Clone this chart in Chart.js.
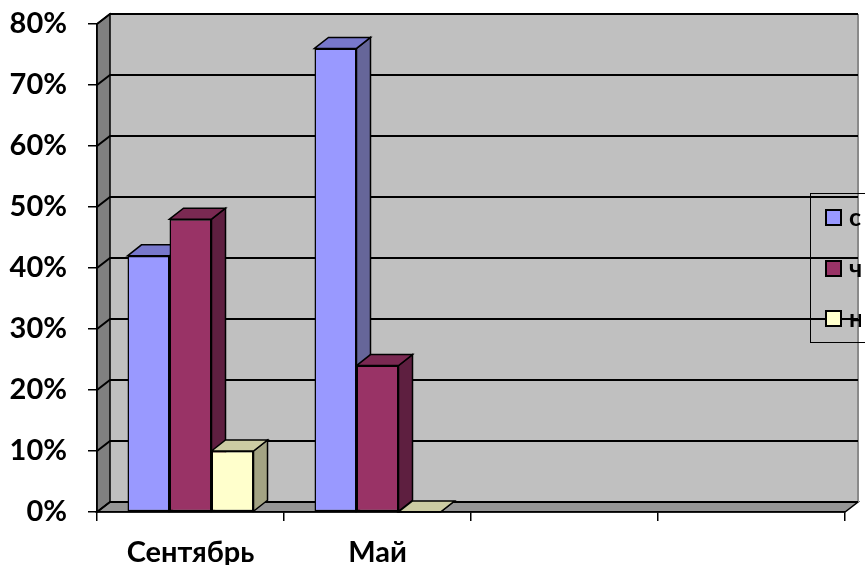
<!DOCTYPE html>
<html>
<head>
<meta charset="utf-8">
<script src="https://cdn.jsdelivr.net/npm/chart.js@4.4.1/dist/chart.umd.min.js"></script>
<style>
  html, body { margin: 0; padding: 0; background: #fff; overflow: hidden; }
  canvas { display: block; }
</style>
</head>
<body>
<canvas id="chart" width="865" height="565"></canvas>
<script>
// data (percent)
const categories = ['Сентябрь', 'Май', '', ''];
const seriesNames = ['сформирован', 'частично сформирован', 'не сформирован'];
const seriesS = [42, 76, null, null];
const seriesCh = [48, 24, null, null];
const seriesN = [10, 0, null, null];
const yTicks = [0, 10, 20, 30, 40, 50, 60, 70, 80];

// front / top / side colours per series
const faceColors = [
    ['#9999ff', '#7878cc', '#666699'],
    ['#993366', '#7a2952', '#5e1f40'],
    ['#ffffcc', '#cccca3', '#a3a383']
];

const FONT = 'Lato, "Noto Sans", sans-serif';
const WX = 13, WY = 10;   // wall depth
const BX = 14, BY = 11;   // bar depth

function poly(ctx, pts, fill, stroke, lw) {
    ctx.beginPath();
    ctx.moveTo(pts[0][0], pts[0][1]);
    for (let i = 1; i < pts.length; i++) ctx.lineTo(pts[i][0], pts[i][1]);
    ctx.closePath();
    if (fill) { ctx.fillStyle = fill; ctx.fill(); }
    if (stroke) { ctx.strokeStyle = stroke; ctx.lineWidth = lw || 1; ctx.stroke(); }
}

// walls, floor, gridlines and the depth faces of the bars
const room3d = {
    id: 'room3d',
    beforeDraw(chart) {
        const { ctx, chartArea: a } = chart;
        const y = chart.scales.y;
        ctx.save();
        // back wall
        poly(ctx, [[a.left + WX, a.top - WY], [a.right + WX, a.top - WY], [a.right + WX, a.bottom - WY], [a.left + WX, a.bottom - WY]], '#c0c0c0');
        // side wall
        poly(ctx, [[a.left, a.top], [a.left + WX, a.top - WY], [a.left + WX, a.bottom - WY], [a.left, a.bottom]], '#808080', '#000', 1.5);
        // floor
        poly(ctx, [[a.left, a.bottom], [a.left + WX, a.bottom - WY], [a.right + WX, a.bottom - WY], [a.right, a.bottom]], '#969696', '#000', 1.5);
        // right edge of back wall
        ctx.strokeStyle = '#8a8a8a';
        ctx.lineWidth = 2;
        ctx.beginPath();
        ctx.moveTo(a.right + WX, a.top - WY);
        ctx.lineTo(a.right + WX, a.bottom - WY);
        ctx.stroke();
        // gridlines
        ctx.strokeStyle = '#000';
        ctx.lineWidth = 2;
        yTicks.forEach(v => {
            const py = y.getPixelForValue(v);
            ctx.beginPath();
            ctx.moveTo(a.left, py);
            ctx.lineTo(a.left + WX, py - WY);
            ctx.lineTo(a.right + WX, py - WY);
            ctx.stroke();
        });
        // bar tops and sides
        chart.data.datasets.forEach((ds, di) => {
            const meta = chart.getDatasetMeta(di);
            meta.data.forEach((bar, i) => {
                if (ds.data[i] == null) return;
                const p = bar.getProps(['x', 'y', 'width', 'base'], true);
                const l = p.x - p.width / 2, r = p.x + p.width / 2;
                const t = p.y, b = p.base;
                poly(ctx, [[r, t], [r + BX, t - BY], [r + BX, b - BY], [r, b]], faceColors[di][2], '#000', 1.5);
                poly(ctx, [[l, t], [l + BX, t - BY], [r + BX, t - BY], [r, t]], faceColors[di][1], '#000', 1.5);
            });
        });
        ctx.restore();
    },
    afterDraw(chart) {
        // legend box, transparent, running off the right edge
        const ctx = chart.ctx;
        ctx.save();
        ctx.strokeStyle = '#000';
        ctx.lineWidth = 1;
        ctx.strokeRect(810.5, 193.5, 120, 149);
        ctx.beginPath();
        ctx.rect(0, 0, 861, chart.height);
        ctx.clip();
        const rowsY = [217, 268, 318];
        ctx.font = 'bold 25px ' + FONT;
        ctx.textBaseline = 'middle';
        seriesNames.forEach((name, i) => {
            ctx.fillStyle = faceColors[i][0];
            ctx.fillRect(826, rowsY[i] - 7, 15, 15);
            ctx.strokeStyle = '#000';
            ctx.lineWidth = 2;
            ctx.strokeRect(826, rowsY[i] - 7, 15, 15);
            ctx.fillStyle = '#000';
            ctx.fillText(name, 849, rowsY[i] + 1);
        });
        ctx.restore();
    }
};

const ctx = document.getElementById('chart').getContext('2d');
const barStyle = { borderColor: '#000', borderWidth: 1.5, borderSkipped: false };

new Chart(ctx, {
    type: 'bar',
    data: {
        labels: categories,
        datasets: [
            Object.assign({ label: seriesNames[0], data: seriesS, backgroundColor: faceColors[0][0] }, barStyle),
            Object.assign({ label: seriesNames[1], data: seriesCh, backgroundColor: faceColors[1][0] }, barStyle),
            Object.assign({ label: seriesNames[2], data: seriesN, backgroundColor: faceColors[2][0] }, barStyle)
        ]
    },
    options: {
        responsive: false,
        animation: false,
        categoryPercentage: 0.674,
        barPercentage: 1,
        layout: { padding: { top: 24, right: 20, left: 0, bottom: 0 } },
        plugins: {
            legend: { display: false },
            tooltip: { enabled: false }
        },
        scales: {
            x: {
                afterFit: s => { s.height = 53; },
                border: { display: true, color: '#000', width: 1.5 },
                grid: { offset: true, drawOnChartArea: false, tickLength: 9, color: '#000', lineWidth: 1.5 },
                ticks: { color: '#000', padding: 14, font: { family: FONT, size: 29, weight: 'bold' } }
            },
            y: {
                min: 0,
                max: 80,
                afterFit: s => { s.width = 97; s.paddingTop = 0; s.paddingBottom = 0; },
                border: { display: true, color: '#000', width: 1.5 },
                grid: { drawOnChartArea: false, tickLength: 9, color: '#000', lineWidth: 1.5 },
                ticks: {
                    stepSize: 10,
                    color: '#000',
                    padding: 21,
                    font: { family: FONT, size: 29, weight: 'bold' },
                    callback: v => v + '%'
                }
            }
        }
    },
    plugins: [room3d]
});
</script>
</body>
</html>
